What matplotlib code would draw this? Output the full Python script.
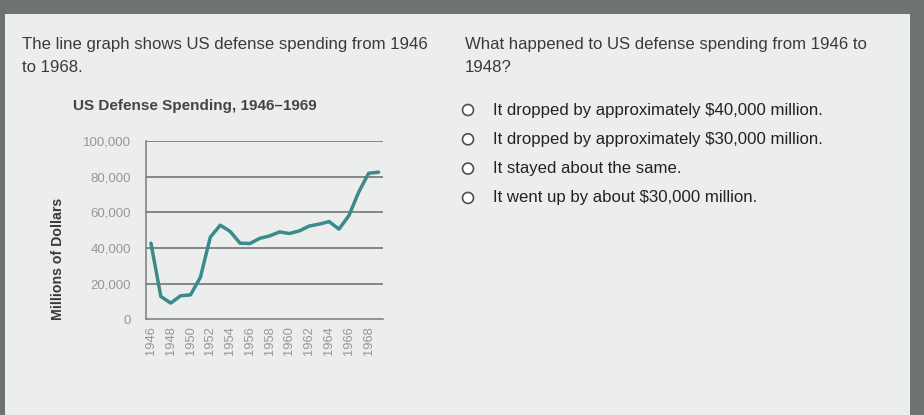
import matplotlib.pyplot as plt
from matplotlib.patches import Rectangle, Circle

plt.rcParams['font.family'] = ['Liberation Sans', 'DejaVu Sans']

# data
years = [1946, 1947, 1948, 1949, 1950, 1951, 1952, 1953, 1954, 1955, 1956, 1957,
         1958, 1959, 1960, 1961, 1962, 1963, 1964, 1965, 1966, 1967, 1968, 1969]
spending = [42700, 12800, 9100, 13200, 13700, 23600, 46100, 52800, 49300, 42700, 42500, 45400,
            46800, 49000, 48100, 49600, 52300, 53400, 54800, 50600, 58100, 71400, 81900, 82500]
tick_years = list(range(1946, 1969, 2))
y_ticks = [0, 20000, 40000, 60000, 80000, 100000]
y_tick_labels = ['0', '20,000', '40,000', '60,000', '80,000', '100,000']

options = ['It dropped by approximately $40,000 million.',
           'It dropped by approximately $30,000 million.',
           'It stayed about the same.',
           'It went up by about $30,000 million.']

W, H = 924, 415
fig = plt.figure(figsize=(W / 100, H / 100), dpi=100, facecolor='#6e7271')


def fx(x):
    return x / W


def fy(y):
    return 1 - y / H


# light card behind everything
fig.patches.append(Rectangle((fx(5), 0), fx(910) - fx(5), fy(14), transform=fig.transFigure,
                             facecolor='#eceeed', edgecolor='none', zorder=-5))

txt = '#3a3a3a'
fig.text(fx(22), fy(45), 'The line graph shows US defense spending from 1946', fontsize=12.1,
         color=txt, va='center')
fig.text(fx(22), fy(68), 'to 1968.', fontsize=12.1, color=txt, va='center')
fig.text(fx(465), fy(45), 'What happened to US defense spending from 1946 to', fontsize=12.1,
         color=txt, va='center')
fig.text(fx(465), fy(68), '1948?', fontsize=12.1, color=txt, va='center')

# answer choices
for i, opt in enumerate(options):
    yy = 110 + i * 29.3
    fig.patches.append(Circle((468 / 100, (H - yy) / 100), 0.055, transform=fig.dpi_scale_trans,
                              facecolor='white', edgecolor='#505050', lw=1.2, zorder=2))
    fig.text(fx(493), fy(yy), opt, fontsize=12.1, color='#222222', va='center')

# chart
ax = fig.add_axes([fx(146), fy(319.3), fx(383) - fx(146), fy(141) - fy(319.3)])
ax.set_facecolor('none')
ax.plot(years, spending, color='#3b8a8c', lw=2.5, solid_capstyle='round', zorder=3)
ax.set_xlim(1945.5, 1969.45)
ax.set_ylim(0, 100000)
ax.set_yticks(y_ticks)
ax.set_yticklabels(y_tick_labels)
ax.set_xticks(tick_years)
ax.set_xticklabels([str(y) for y in tick_years], rotation=90)
ax.tick_params(axis='both', length=0, labelcolor='#969696', labelsize=9.5)
ax.tick_params(axis='y', pad=11)
ax.tick_params(axis='x', pad=5, labelsize=9.3)
for yv in y_ticks[1:]:
    ax.axhline(yv, color='#6a6a6a', lw=1.1, zorder=1)
for side in ['top', 'right']:
    ax.spines[side].set_visible(False)
for side in ['left', 'bottom']:
    ax.spines[side].set_color('#7a7a7a')
    ax.spines[side].set_linewidth(1.1)

fig.text(fx(73), fy(106), 'US Defense Spending, 1946\u20131969', fontsize=11, fontweight='bold',
         color='#444444', va='center')
fig.text(fx(58), fy(259), 'Millions of Dollars', fontsize=10.2, fontweight='bold', color='#3a3a3a',
         rotation=90, ha='center', va='center')

fig.savefig('out.png', dpi=100, facecolor=fig.get_facecolor())
